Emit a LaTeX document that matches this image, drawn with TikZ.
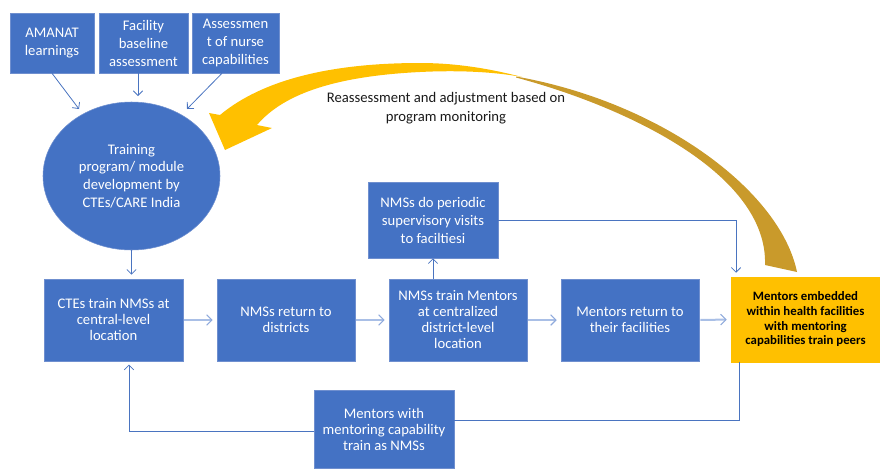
\documentclass[tikz,border=0pt]{standalone}
\usepackage{fontspec}
\setmainfont{Carlito}
\usetikzlibrary{arrows.meta,shapes.geometric}
\definecolor{boxblue}{HTML}{4472C4}
\definecolor{boxedge}{HTML}{6F8FCF}
\definecolor{linkblue}{HTML}{4A74C0}
\definecolor{rowarrow}{HTML}{A9BFE6}
\definecolor{rowtip}{HTML}{8FAADC}
\definecolor{gold}{HTML}{FFC000}
\definecolor{darkgold}{HTML}{C99A2B}
\definecolor{labeltext}{HTML}{1A1A1A}
\begin{document}
\begin{tikzpicture}[x=0.75pt,y=-0.75pt,
  bluebox/.style={rectangle,fill=boxblue,draw=boxedge,line width=0.4pt,text=white,align=center,
    font=\fontsize{11pt}{13.5pt}\selectfont,inner sep=2pt},
  rowbox/.style={bluebox,minimum width=138*0.75pt,minimum height=82*0.75pt,
    font=\fontsize{11pt}{12pt}\selectfont},
  conn/.style={draw=linkblue,line width=0.6pt},
  tipped/.style={-{Straight Barb[length=3.5pt,width=7pt]}},
  rowconn/.style={draw=rowarrow,line width=1.5pt,
    -{Straight Barb[length=4pt,width=8pt,line width=0.8pt,color=rowtip]}}
]
\useasboundingbox (0,0) rectangle (880,468);

% curved feedback arrow
\fill[darkgold] (516,76.5) .. controls (660,102) and (780,190) .. (797,272)
  -- (765,265) .. controls (768,175) and (630,108) .. (516,77.5) -- cycle;
\fill[gold] (220,115) .. controls (262,80) and (330,63) .. (420,63)
  .. controls (460,63) and (495,70) .. (522,77)
  .. controls (495,72) and (460,70) .. (420,72)
  .. controls (340,76) and (285,92) .. (257,125)
  -- (272,128) -- (225,150) -- (209,113) -- cycle;

% top boxes
\node[bluebox,minimum width=84*0.75pt,minimum height=60*0.75pt] (amanat) at (52,43) {AMANAT\\learnings};
\node[bluebox,minimum width=89*0.75pt,minimum height=60*0.75pt] (facility) at (143.5,43) {Facility\\baseline\\assessment};
\node[bluebox,minimum width=87*0.75pt,minimum height=60*0.75pt] (assess) at (235.5,43) {Assessmen\\t of nurse\\capabilities};

% ellipse
\node[ellipse,fill=boxblue,draw=boxedge,line width=0.4pt,text=white,align=center,
  minimum width=177*0.75pt,minimum height=148*0.75pt,inner sep=0pt,
  font=\fontsize{11pt}{13.3pt}\selectfont] (ell) at (131.5,176)
  {Training\\program/ module\\development by\\CTEs/CARE India};

\coordinate (e1) at (79,109);
\coordinate (e2) at (138,96);
\coordinate (e3) at (187,109);
\draw[conn,tipped] (amanat.south) -- (e1);
\draw[conn,tipped] ([xshift=-5.5*0.75pt]facility.south) -- (e2);
\draw[conn,tipped] ([xshift=-13.5*0.75pt]assess.south) -- (e3);

% label
\node[text=labeltext,align=center,font=\fontsize{11pt}{14pt}\selectfont] (lbl) at (446,108)
  {Reassessment and adjustment based on\\program monitoring};

% row boxes
\node[rowbox,minimum width=139*0.75pt] (box1) at (113.5,320) {CTEs train NMSs at\\central-level\\location};
\node[rowbox] (box2) at (286,320) {NMSs return to\\districts};
\node[rowbox] (box3) at (458,320) {NMSs train Mentors\\at centralized\\district-level\\location};
\node[rowbox] (box4) at (630,320) {Mentors return to\\their facilities};
\node[rectangle,fill=gold,draw=gold,text=black,align=center,minimum width=149*0.75pt,
  minimum height=85*0.75pt,inner sep=2pt,font=\fontsize{9.6pt}{11pt}\selectfont\bfseries]
  (yellow) at (805.5,319.5) {Mentors embedded\\within health facilities\\with mentoring\\capabilities train peers};

\node[bluebox,minimum width=130*0.75pt,minimum height=76*0.75pt] (periodic) at (433,220)
  {NMSs do periodic\\supervisory visits\\to faciltiesi};
\node[bluebox,minimum width=140*0.75pt,minimum height=78*0.75pt,
  font=\fontsize{11pt}{12pt}\selectfont] (bottom) at (384,429)
  {Mentors with\\mentoring capability\\train as NMSs};

% connectors
\draw[conn,tipped,shorten >=3pt] (ell.south) -- (ell.south |- box1.north);
\draw[rowconn,shorten <=0.8pt,shorten >=3pt] (box1.east) -- (box2.west);
\draw[rowconn,shorten <=0.8pt,shorten >=3pt] (box2.east) -- (box3.west);
\draw[rowconn,shorten <=0.8pt,shorten >=3pt] (box3.east) -- (box4.west);
\draw[rowconn,shorten <=0.8pt,shorten >=3pt] (box4.east) -- (yellow.west);
\draw[conn,tipped] (periodic.south |- box3.north) -- (periodic.south);
\draw[conn,tipped,shorten >=3pt] (periodic.east) -| ([xshift=-69.5*0.75pt]yellow.north);
\draw[conn] ([xshift=-66.5*0.75pt]yellow.south) |- ([yshift=9*0.75pt]bottom.east);
\draw[conn,tipped,shorten >=2.5pt] ([yshift=-2.5*0.75pt]bottom.west) -| ([xshift=15.5*0.75pt]box1.south);
\end{tikzpicture}
\end{document}
